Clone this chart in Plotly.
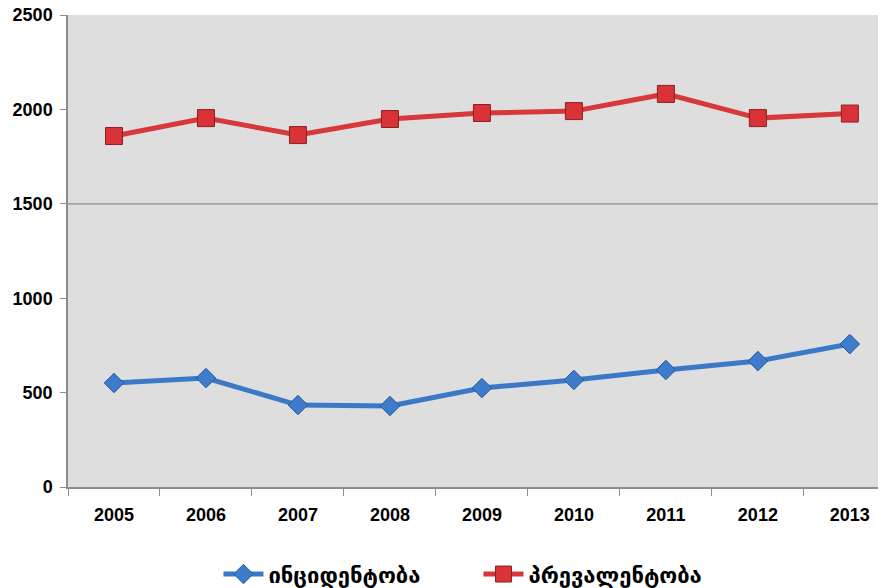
import plotly.graph_objects as go

years = ["2005", "2006", "2007", "2008", "2009", "2010", "2011", "2012", "2013"]
incidence = [551, 577, 434, 429, 524, 567, 620, 667, 757]
prevalence = [1859, 1954, 1864, 1949, 1981, 1991, 2082, 1954, 1978]
y_ticks = [0, 500, 1000, 1500, 2000, 2500]
name_inc = "ინციდენტობა"
name_prev = "პრევალენტობა"

fig = go.Figure()
fig.add_trace(go.Scatter(
    x=years, y=incidence, name=name_inc, mode="lines+markers",
    line=dict(color="#3b78c6", width=5),
    marker=dict(symbol="diamond", size=15, color="#3d7ccc",
                line=dict(color="#2a5a9a", width=1)),
))
fig.add_trace(go.Scatter(
    x=years, y=prevalence, name=name_prev, mode="lines+markers",
    line=dict(color="#d8383c", width=5),
    marker=dict(symbol="square", size=17, color="#d93338",
                line=dict(color="#8a2020", width=1)),
))

fig.add_hline(y=1500, line=dict(color="#8c8c8c", width=1.2), layer="below")

tickfont = dict(family="Liberation Sans Narrow, Liberation Sans, Arial", size=18,
                color="black", weight="bold")

fig.update_layout(
    width=886, height=588,
    margin=dict(l=60, r=0, t=7, b=109, autoexpand=False),
    paper_bgcolor="white",
    plot_bgcolor="#dedede",
    showlegend=True,
    legend=dict(
        orientation="h", xref="container", yref="container",
        x=0.531, xanchor="center", y=0.037, yanchor="middle",
        font=dict(family="DejaVu Sans", size=22, color="black", weight="bold"),
        itemwidth=40, traceorder="normal", entrywidth=205,
    ),
    xaxis=dict(
        type="category", range=[-0.5, 8.48], automargin=False,
        showgrid=False, showline=True, linecolor="#8c8c8c", linewidth=1.5,
        ticks="outside", tickson="boundaries", ticklen=7, tickcolor="#8c8c8c",
        tickfont=tickfont, ticklabelstandoff=11, ticklabeloverflow="allow",
    ),
    yaxis=dict(
        range=[0, 2500], tickvals=y_ticks, automargin=False,
        showgrid=False, zeroline=False, showline=True, linecolor="#8c8c8c",
        linewidth=1.5, ticks="outside", ticklen=6, tickcolor="#8c8c8c",
        tickfont=tickfont, ticklabelstandoff=4, ticklabeloverflow="allow",
    ),
)

fig.write_html("out.html")
